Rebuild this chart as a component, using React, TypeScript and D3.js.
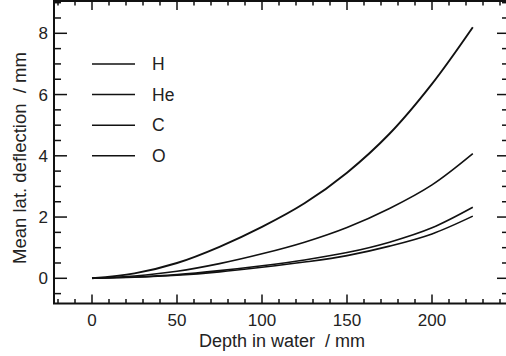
import * as d3 from 'd3';

// depth in water (mm) and mean lateral deflection (mm) per ion
const depth = [0, 25, 50, 75, 100, 125, 150, 175, 200, 224];
const defH = [0, 0.16, 0.5, 1.03, 1.68, 2.45, 3.45, 4.72, 6.35, 8.2];
const defHe = [0, 0.075, 0.23, 0.48, 0.8, 1.18, 1.66, 2.28, 3.05, 4.07];
const defC = [0, 0.04, 0.12, 0.25, 0.41, 0.6, 0.84, 1.18, 1.65, 2.32];
const defO = [0, 0.035, 0.1, 0.21, 0.36, 0.53, 0.74, 1.05, 1.45, 2.03];

const ions = ['H', 'He', 'C', 'O'];
const legendY = [7, 6, 5, 4];

const xTicks = [0, 50, 100, 150, 200];
const yTicks = [0, 2, 4, 6, 8];

const W = 506;
const H = 356;
const font = '"Liberation Sans", Arial, Helvetica, sans-serif';

export default function App() {
  const left = 54, right = 507, top = 1, bottom = 303.5;

  const x = d3.scaleLinear().domain([0, 200]).range([92, 432]);
  const y = d3.scaleLinear().domain([0, 8]).range([278.3, 33.3]);

  const series = [defH, defHe, defC, defO].map(vals => vals.map((v, i) => [depth[i], v] as [number, number]));

  const line = d3.line<[number, number]>()
    .x(d => x(d[0]))
    .y(d => y(d[1]))
    .curve(d3.curveCatmullRom.alpha(0.5));

  const xMinor = d3.range(-20, 241, 10);
  const yMinor = d3.range(-0.5, 9.01, 0.5);

  return (
    <svg width={W} height={H} style={{ position: 'absolute', left: 0, top: 0 }} fontFamily={font}>
      <rect width={W} height={H} fill="white" />

      {/* ticks */}
      <g stroke="#111" strokeWidth={1.5}>
        {xMinor.map(t => {
          const major = t % 50 === 0;
          const len = major ? 9 : 4.5;
          return (
            <g key={'x' + t}>
              <line x1={x(t)} x2={x(t)} y1={bottom} y2={bottom - len} />
              <line x1={x(t)} x2={x(t)} y1={top} y2={top + len} />
            </g>
          );
        })}
        {yMinor.map(t => {
          const major = Math.abs(t % 2) < 1e-6;
          return (
            <g key={'y' + t}>
              <line x1={left} x2={left + (major ? 13 : 7)} y1={y(t)} y2={y(t)} />
              <line x1={right} x2={right - (major ? 10 : 5)} y1={y(t)} y2={y(t)} />
            </g>
          );
        })}
      </g>

      {/* frame */}
      <rect x={left} y={top} width={right - left} height={bottom - top} fill="none" stroke="#111" strokeWidth={2} />

      {/* curves */}
      {series.map((s, i) => (
        <path key={ions[i]} d={line(s) ?? ''} fill="none" stroke="#111" strokeWidth={i === 0 ? 1.9 : 1.6} />
      ))}

      {/* legend */}
      {ions.map((name, i) => (
        <g key={'lg' + name}>
          <line x1={92} x2={135} y1={y(legendY[i])} y2={y(legendY[i])} stroke="#111" strokeWidth={1.6} />
          <text x={152} y={y(legendY[i])} dy="0.36em" fontSize={17.5} fill="#222">{name}</text>
        </g>
      ))}

      {/* tick labels */}
      {xTicks.map(t => (
        <text key={'xl' + t} x={x(t)} y={326} textAnchor="middle" fontSize={17} fill="#222">{t}</text>
      ))}
      {yTicks.map(t => (
        <text key={'yl' + t} x={48} y={y(t)} dy="0.36em" textAnchor="end" fontSize={17} fill="#222">{t}</text>
      ))}

      {/* axis titles */}
      <text x={282} y={347} textAnchor="middle" fontSize={18} fill="#222" style={{ whiteSpace: 'pre' }}>Depth in water  / mm</text>
      <text transform="translate(26,158) rotate(-90)" textAnchor="middle" fontSize={18.5} fill="#222" style={{ whiteSpace: 'pre' }}>Mean lat. deflection  / mm</text>
    </svg>
  );
}
